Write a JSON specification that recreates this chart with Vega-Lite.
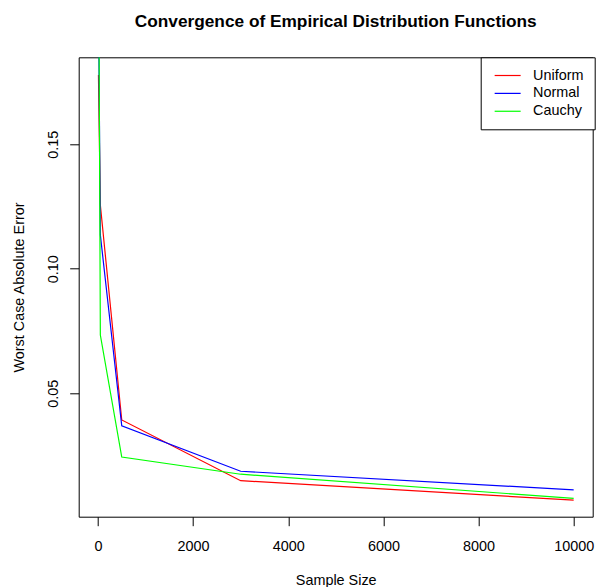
{
  "$schema": "https://vega.github.io/schema/vega-lite/v6.json",
  "autosize": {"type": "none"},
  "padding": {"left": 78.7, "top": 57.3, "right": 3.3, "bottom": 70.3},
  "width": 514,
  "height": 459.4,
  "background": "white",
  "config": {
    "font": "Liberation Sans",
    "view": {"stroke": "black", "strokeWidth": 1},
    "axis": {"grid": false, "domain": false, "tickColor": "black", "tickSize": 9, "tickWidth": 1,
             "labelColor": "black", "titleColor": "black", "labelFontSize": 14.4, "titleFontSize": 14.4,
             "titleFontWeight": "normal", "labelFont": "Liberation Sans", "titleFont": "Liberation Sans"}
  },
  "title": {
    "text": "Convergence of Empirical Distribution Functions",
    "anchor": "middle", "frame": "group", "baseline": "alphabetic", "offset": 13,
    "fontSize": 17.28, "fontWeight": "bold", "font": "Liberation Sans", "color": "black"
  },
  "data": {"values": [
    {"n": 10, "err": 0.1778, "dist": "Uniform"},
    {"n": 50, "err": 0.1256, "dist": "Uniform"},
    {"n": 500, "err": 0.0393, "dist": "Uniform"},
    {"n": 3000, "err": 0.0149, "dist": "Uniform"},
    {"n": 10000, "err": 0.0071, "dist": "Uniform"},
    {"n": 10, "err": 0.21, "dist": "Normal"},
    {"n": 50, "err": 0.1136, "dist": "Normal"},
    {"n": 500, "err": 0.0369, "dist": "Normal"},
    {"n": 3000, "err": 0.0187, "dist": "Normal"},
    {"n": 10000, "err": 0.0112, "dist": "Normal"},
    {"n": 10, "err": 0.25, "dist": "Cauchy"},
    {"n": 50, "err": 0.0734, "dist": "Cauchy"},
    {"n": 500, "err": 0.0244, "dist": "Cauchy"},
    {"n": 3000, "err": 0.0175, "dist": "Cauchy"},
    {"n": 10000, "err": 0.0078, "dist": "Cauchy"}
  ]},
  "mark": {"type": "line", "clip": true, "strokeWidth": 1.2},
  "encoding": {
    "x": {"field": "n", "type": "quantitative",
          "scale": {"domain": [-405, 10400], "nice": false, "zero": false},
          "axis": {"values": [0, 2000, 4000, 6000, 8000, 10000], "format": "d", "title": "Sample Size",
                   "labelBaseline": "alphabetic", "labelPadding": 24.4,
                   "titleBaseline": "alphabetic", "titleX": 257, "titleY": 67.8, "titleAnchor": "middle", "titleAlign": "center"}},
    "y": {"field": "err", "type": "quantitative",
          "scale": {"domain": [0.00044, 0.18494], "nice": false, "zero": false},
          "axis": {"values": [0.05, 0.10, 0.15], "format": ".2f", "title": "Worst Case Absolute Error",
                   "labelAngle": 270, "labelAlign": "center", "labelBaseline": "alphabetic", "labelPadding": 11.7,
                   "titleAngle": 270, "titleBaseline": "alphabetic", "titleAlign": "center", "titleX": -55.3, "titleY": 229.7}},
    "color": {"field": "dist", "type": "nominal", "sort": ["Uniform", "Normal", "Cauchy"],
              "scale": {"domain": ["Uniform", "Normal", "Cauchy"], "range": ["#ff0000", "#0000ff", "#00ff00"]},
              "legend": {"title": null, "orient": "none", "legendX": 402, "legendY": 0,
                         "symbolType": "M-2.125,0H10.875", "symbolSize": 16, "symbolStrokeWidth": 1.2,
                         "labelFontSize": 14.4, "labelFont": "Liberation Sans", "labelColor": "black", "labelOffset": 27,
                         "padding": 11, "rowPadding": 2.88, "strokeColor": "black", "fillColor": "white"}}
  }
}
